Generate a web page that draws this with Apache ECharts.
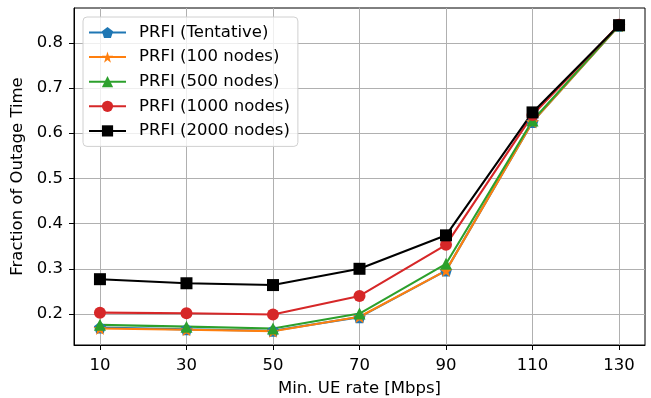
<!DOCTYPE html>
<html><head><meta charset="utf-8">
<script src="https://cdn.jsdelivr.net/npm/echarts@6/dist/echarts.min.js"></script>
<style>html,body{margin:0;padding:0;background:#fff}#c{width:651px;height:398px}</style>
</head><body><div id="c"></div>
<script>
const xValues = [10, 30, 50, 70, 90, 110, 130];
const xTicks = [10, 30, 50, 70, 90, 110, 130];
const yTicks = [0.2, 0.3, 0.4, 0.5, 0.6, 0.7, 0.8];
const seriesNames = ['PRFI (Tentative)', 'PRFI (100 nodes)', 'PRFI (500 nodes)', 'PRFI (1000 nodes)', 'PRFI (2000 nodes)'];
const tentative = [0.170, 0.166, 0.163, 0.193, 0.296, 0.625, 0.838];
const nodes100  = [0.168, 0.165, 0.162, 0.194, 0.296, 0.625, 0.838];
const nodes500  = [0.176, 0.172, 0.168, 0.201, 0.311, 0.628, 0.839];
const nodes1000 = [0.203, 0.2015, 0.199, 0.240, 0.353, 0.640, 0.840];
const nodes2000 = [0.277, 0.268, 0.264, 0.300, 0.374, 0.646, 0.839];

const colors = ['#1f77b4', '#ff7f0e', '#2ca02c', '#d62728', '#000000'];
const pentagon = 'path://M0,-1L0.951,-0.309L0.588,0.809L-0.588,0.809L-0.951,-0.309Z';
const star = 'path://M0,-1L0.2245,-0.309L0.951,-0.309L0.3633,0.118L0.5878,0.809L0,0.382L-0.5878,0.809L-0.3633,0.118L-0.951,-0.309L-0.2245,-0.309Z';
const symbols = [pentagon, star, 'triangle', 'circle', 'rect'];
const sizes = [12, 13, 12, 12, 12];
const allData = [tentative, nodes100, nodes500, nodes1000, nodes2000];
const font = 'DejaVu Sans';
const fs = 16.5;

const chart = echarts.init(document.getElementById('c'), null, {renderer: 'canvas'});
chart.setOption({
  animation: false,
  textStyle: {fontFamily: font},
  grid: {left: 74, right: 6, top: 8, bottom: 53, outerBoundsMode: 'none', containLabel: false, show: true, borderColor: '#000', borderWidth: 1, backgroundColor: 'transparent'},
  xAxis: {
    type: 'value', min: 4, max: 136,
    name: 'Min. UE rate [Mbps]', nameLocation: 'middle', nameGap: 35,
    nameTextStyle: {fontFamily: font, fontSize: fs, color: '#000'},
    axisLine: {show: true, onZero: false, lineStyle: {color: '#000', width: 1}},
    axisTick: {show: true, inside: false, length: 5, lineStyle: {color: '#000'}, customValues: xTicks},
    axisLabel: {fontFamily: font, fontSize: fs, color: '#000', margin: 12, customValues: xTicks},
    splitLine: {show: true, lineStyle: {color: '#b0b0b0', width: 1}}
  },
  yAxis: {
    type: 'value', min: 0.1314, max: 0.877,
    name: 'Fraction of Outage Time', nameLocation: 'middle', nameGap: 42,
    nameTextStyle: {fontFamily: font, fontSize: fs, color: '#000'},
    axisLine: {show: true, onZero: false, lineStyle: {color: '#000', width: 1}},
    axisTick: {show: true, inside: false, length: 5, lineStyle: {color: '#000'}, customValues: yTicks},
    axisLabel: {fontFamily: font, fontSize: fs, color: '#000', margin: 11, customValues: yTicks, formatter: v => v.toFixed(1)},
    splitLine: {show: true, lineStyle: {color: '#b0b0b0', width: 1}}
  },
  legend: {
    orient: 'vertical', left: 83, top: 17,
    padding: [7, 8, 7, 5],
    itemWidth: 37, itemHeight: 14, itemGap: 7.6,
    backgroundColor: 'rgba(255,255,255,0.8)', borderColor: '#d0d0d0', borderWidth: 1, borderRadius: 4,
    textStyle: {fontFamily: font, fontSize: fs, color: '#000', padding: [0, 0, 0, 8]},
    data: seriesNames
  },
  series: seriesNames.map((name, i) => ({
    name: name, type: 'line',
    data: xValues.map((x, j) => [x, allData[i][j]]),
    symbol: symbols[i], symbolSize: sizes[i], showAllSymbol: true,
    lineStyle: {color: colors[i], width: 2.1},
    itemStyle: {color: colors[i], borderWidth: 0},
    color: colors[i]
  }))
});
</script></body></html>
